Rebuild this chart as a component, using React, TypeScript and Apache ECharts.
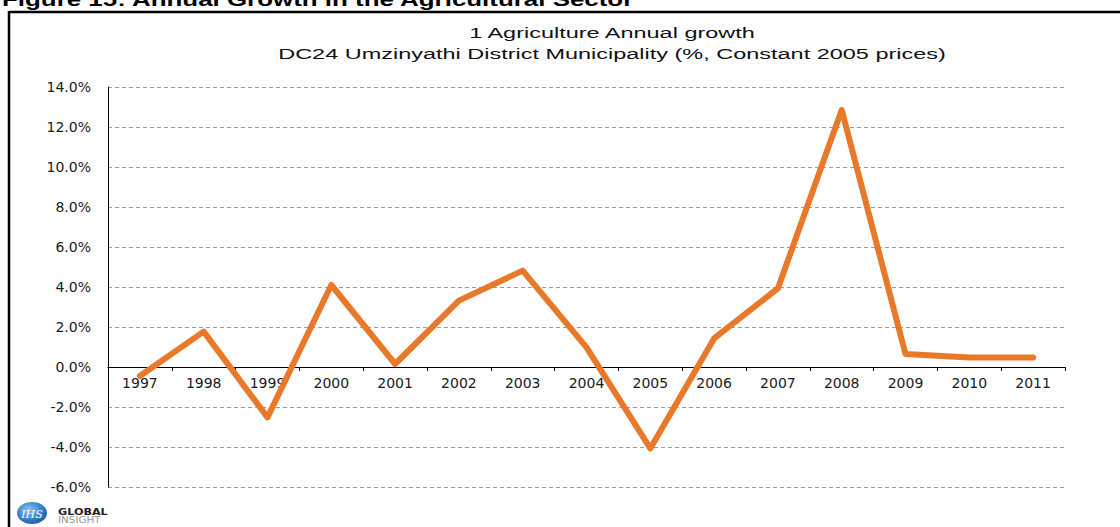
import React, { useEffect, useRef } from "react";
import * as echarts from "echarts";

const years = ["1997", "1998", "1999", "2000", "2001", "2002", "2003", "2004", "2005", "2006", "2007", "2008", "2009", "2010", "2011"];
const growth = [-0.45, 1.77, -2.52, 4.1, 0.15, 3.32, 4.82, 0.98, -4.07, 1.43, 3.93, 12.85, 0.65, 0.48, 0.48];
const yMin = -6;
const yMax = 14;
const yStep = 2;
const figureTitle = "Figure 15: Annual Growth in the Agricultural Sector";
const chartTitle1 = "1 Agriculture Annual growth";
const chartTitle2 = "DC24 Umzinyathi District Municipality (%, Constant 2005 prices)";

const GRID_TOP = 87;
const GRID_BOTTOM = 40;
const CHART_H = 527;

export default function App() {
  const ref = useRef<HTMLDivElement>(null);
  useEffect(() => {
    if (!ref.current) return;
    const chart = echarts.init(ref.current, null, { renderer: "svg" });
    const labelFont = "'DejaVu Sans', sans-serif";
    const plotH = CHART_H - GRID_TOP - GRID_BOTTOM;
    const zeroOffset = -(plotH * (0 - yMin)) / (yMax - yMin);
    chart.setOption({
      animation: false,
      backgroundColor: "#ffffff",
      grid: { left: 108, right: 55, top: GRID_TOP, bottom: GRID_BOTTOM, containLabel: false, outerBoundsMode: "none" },
      xAxis: {
        type: "category",
        data: years,
        boundaryGap: true,
        position: "bottom",
        offset: zeroOffset,
        axisLine: { show: true, onZero: false, lineStyle: { color: "#000", width: 1 } },
        axisTick: { show: true, length: 4, interval: 0, lineStyle: { color: "#000" } },
        axisLabel: { interval: 0, margin: 9, color: "#1a1a1a", fontSize: 14, fontFamily: labelFont },
        splitLine: { show: false },
      },
      yAxis: {
        type: "value",
        min: yMin,
        max: yMax,
        interval: yStep,
        axisLine: { show: true, lineStyle: { color: "#000", width: 1 } },
        axisTick: { show: false },
        axisLabel: {
          margin: 17,
          color: "#1a1a1a",
          fontSize: 14,
          fontFamily: labelFont,
          formatter: (v: number) => v.toFixed(1) + "%",
        },
        splitLine: { show: true, lineStyle: { color: "#9a9a9a", type: [4, 3], width: 1 } },
      },
      series: [
        {
          type: "line",
          data: growth,
          symbol: "none",
          z: 5,
          lineStyle: { color: "#E8782A", width: 6, cap: "round", join: "round" },
        },
      ],
      graphic: [
        {
          type: "text",
          x: 2,
          y: 9,
          scaleX: 1.44,
          style: {
            text: figureTitle,
            font: "bold 18px 'Liberation Sans', Arial, sans-serif",
            fill: "#000",
            textAlign: "left",
            textVerticalAlign: "bottom",
          },
        },
        {
          type: "line",
          shape: { x1: 9, y1: 12, x2: 1120, y2: 12 },
          style: { stroke: "#000", lineWidth: 2.5 },
        },
        {
          type: "line",
          shape: { x1: 9, y1: 11, x2: 9, y2: 527 },
          style: { stroke: "#000", lineWidth: 2.5 },
        },
        {
          type: "text",
          x: 612,
          y: 33,
          scaleX: 1.565,
          style: {
            text: chartTitle1,
            font: "15px 'Liberation Sans', Arial, sans-serif",
            fill: "#111",
            textAlign: "center",
            textVerticalAlign: "middle",
          },
        },
        {
          type: "text",
          x: 612,
          y: 54,
          scaleX: 1.565,
          style: {
            text: chartTitle2,
            font: "15px 'Liberation Sans', Arial, sans-serif",
            fill: "#111",
            textAlign: "center",
            textVerticalAlign: "middle",
          },
        },
        {
          type: "ellipse",
          shape: { cx: 32, cy: 513, rx: 15, ry: 11 },
          style: {
            fill: new echarts.graphic.RadialGradient(0.4, 0.35, 0.8, [
              { offset: 0, color: "#8fc3ee" },
              { offset: 0.6, color: "#2f78c4" },
              { offset: 1, color: "#1c4f93" },
            ]),
          },
        },
        {
          type: "text",
          x: 32,
          y: 514,
          style: {
            text: "IHS",
            font: "italic 11px 'DejaVu Serif', serif",
            fill: "#ffffff",
            textAlign: "center",
            textVerticalAlign: "middle",
          },
        },
        {
          type: "text",
          x: 58,
          y: 512,
          scaleX: 1.4,
          style: {
            text: "GLOBAL",
            font: "bold 8px 'DejaVu Sans', sans-serif",
            fill: "#222",
            textAlign: "left",
            textVerticalAlign: "middle",
          },
        },
        {
          type: "text",
          x: 58,
          y: 520,
          scaleX: 1.3,
          style: {
            text: "INSIGHT",
            font: "8px 'DejaVu Sans', sans-serif",
            fill: "#999",
            textAlign: "left",
            textVerticalAlign: "middle",
          },
        },
      ],
    });
    return () => chart.dispose();
  }, []);
  return (
    <div
      ref={ref}
      style={{ position: "absolute", left: 0, top: 0, width: 1120, height: CHART_H, background: "#fff" }}
    />
  );
}
